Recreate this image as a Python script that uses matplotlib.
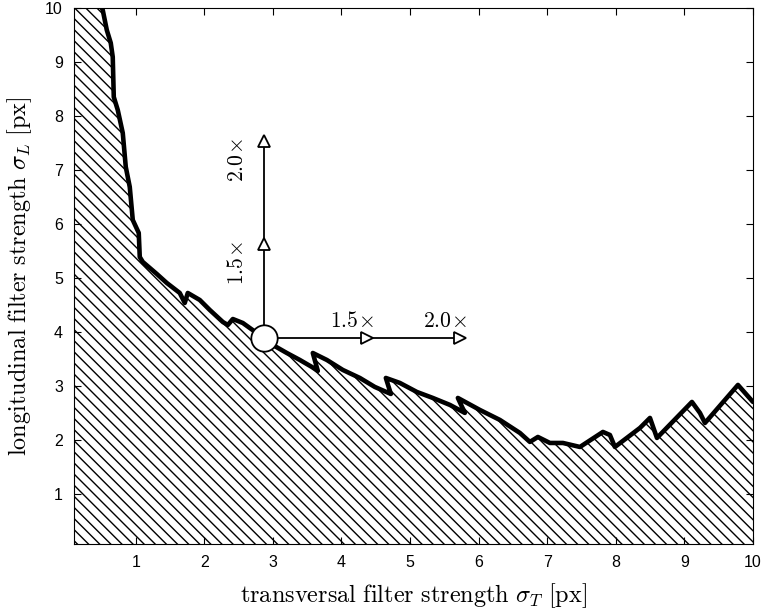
import matplotlib
matplotlib.use('Agg')
import matplotlib.pyplot as plt

plt.rcParams['mathtext.fontset'] = 'cm'
plt.rcParams['hatch.linewidth'] = 1.0

# boundary curve (sigma_T, sigma_L)
sig_t = [0.505, 0.519, 0.578, 0.636, 0.665, 0.680, 0.738, 0.811, 0.855, 0.913,
         0.957, 1.044, 1.059, 1.103, 1.205, 1.307, 1.453, 1.642, 1.715, 1.759,
         1.934, 2.080, 2.270, 2.343, 2.416, 2.562, 2.663, 2.868, 2.999, 3.203,
         3.393, 3.568, 3.655, 3.582, 3.787, 4.020, 4.268, 4.486, 4.720, 4.647,
         4.851, 5.099, 5.332, 5.581, 5.799, 5.697, 6.018, 6.310, 6.602, 6.747,
         6.864, 7.039, 7.229, 7.477, 7.812, 7.914, 7.987, 8.352, 8.498, 8.600,
         9.110, 9.227, 9.300, 9.781, 10.0]
sig_l = [10.0, 9.963, 9.593, 9.352, 9.093, 8.353, 8.112, 7.687, 7.058, 6.688,
         6.077, 5.837, 5.392, 5.300, 5.189, 5.078, 4.911, 4.726, 4.541, 4.726,
         4.596, 4.411, 4.189, 4.133, 4.244, 4.170, 4.078, 3.893, 3.763, 3.615,
         3.486, 3.357, 3.283, 3.615, 3.486, 3.301, 3.153, 2.987, 2.857, 3.153,
         3.061, 2.894, 2.783, 2.654, 2.506, 2.783, 2.561, 2.376, 2.135, 1.969,
         2.061, 1.950, 1.950, 1.876, 2.154, 2.098, 1.876, 2.228, 2.413, 2.043,
         2.709, 2.505, 2.320, 3.024, 2.709]

# operating point and scaled versions
origin = (2.87, 3.89)
h_marks = [4.37, 5.73]     # 1.5x, 2.0x along sigma_T
v_marks = [5.63, 7.54]     # 1.5x, 2.0x along sigma_L
mark_labels = [r'$1.5\!\times$', r'$2.0\!\times$']

xmin, xmax = 0.1, 10
ymin, ymax = 0.08, 10

fig = plt.figure(figsize=(7.66, 6.14), dpi=100)
ax = fig.add_axes([0.0966, 0.114, 0.8864, 0.873])

px = [xmin] + sig_t + [xmax, xmin]
py = [ymax] + sig_l + [ymin, ymin]
ax.fill(px, py, facecolor='white', edgecolor='black', hatch='\\\\\\', linewidth=0, zorder=1)
ax.plot(sig_t, sig_l, color='black', lw=3.3, solid_joinstyle='round', solid_capstyle='round', zorder=3)

ox, oy = origin
ax.plot([ox, h_marks[-1]], [oy, oy], color='black', lw=1.3, zorder=4)
ax.plot([ox, ox], [oy, v_marks[-1]], color='black', lw=1.3, zorder=4)
ax.plot(h_marks, [oy] * len(h_marks), ls='none', marker='>', ms=9,
        mfc='white', mec='black', mew=1.3, zorder=5)
ax.plot([ox] * len(v_marks), v_marks, ls='none', marker='^', ms=9,
        mfc='white', mec='black', mew=1.3, zorder=5)
ax.plot([ox], [oy], ls='none', marker='o', ms=19, mfc='white', mec='black', mew=1.3, zorder=6)

for xm, lab in zip(h_marks, mark_labels):
    ax.text(xm - 0.22, oy + 0.32, lab, fontsize=15.5, ha='center', va='center', zorder=6)
for ym, lab in zip(v_marks, mark_labels):
    ax.text(ox - 0.4, ym - 0.35, lab, fontsize=15.5, ha='center', va='center', rotation=90, zorder=6)

ax.set_xlim(xmin, xmax)
ax.set_ylim(ymin, ymax)
ax.set_xticks(range(1, 11))
ax.set_yticks(range(1, 11))
ax.tick_params(direction='in', top=True, right=True, length=5, width=0.8, pad=8)
for lab in ax.get_xticklabels() + ax.get_yticklabels():
    lab.set_fontfamily('Liberation Sans')
    lab.set_fontsize(11.5)

ax.set_xlabel(r'$\mathrm{transversal\ filter\ strength}\ \sigma_T\ \mathrm{[px]}$', fontsize=17.5, labelpad=8)
ax.set_ylabel(r'$\mathrm{longitudinal\ filter\ strength}\ \sigma_L\ \mathrm{[px]}$', fontsize=17.5, labelpad=8)
for s in ax.spines.values():
    s.set_linewidth(0.8)

fig.savefig('out.png', dpi=100)
